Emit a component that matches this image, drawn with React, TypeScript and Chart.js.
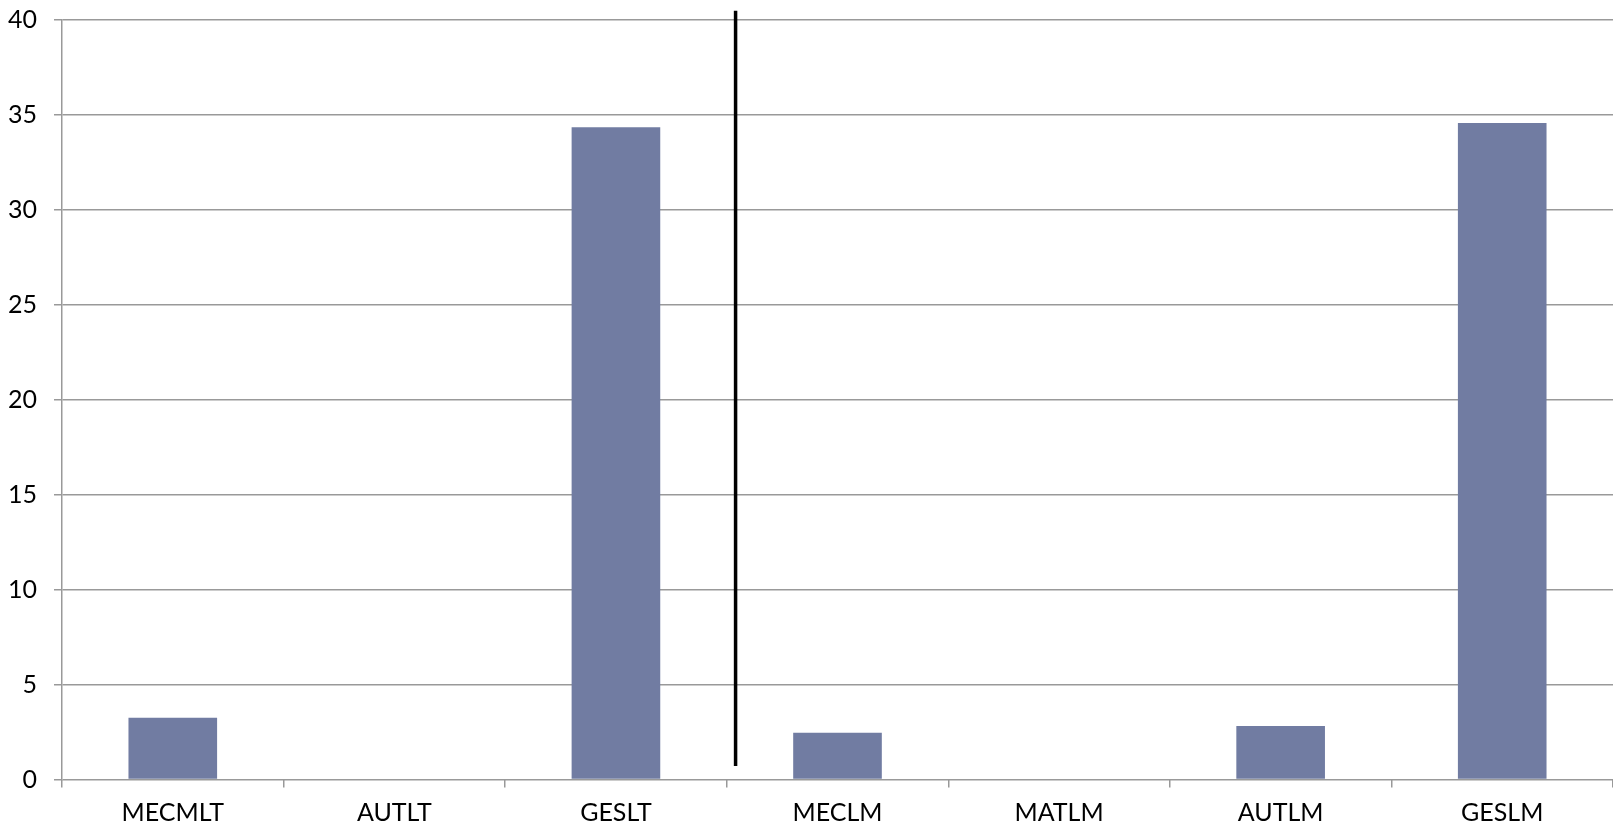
import React, { useEffect, useRef } from "react";
import { Chart, registerables } from "chart.js";

Chart.register(...registerables);

const categories = ["MECMLT", "AUTLT", "GESLT", "MECLM", "MATLM", "AUTLM", "GESLM"];
const values = [3.25, 0, 34.33, 2.46, 0, 2.82, 34.55];
const yTicks = [0, 5, 10, 15, 20, 25, 30, 35, 40];
const dividerX = 2.54;
const dividerY = [0.71, 40.46];

export default function App() {
  const ref = useRef<HTMLCanvasElement | null>(null);

  useEffect(() => {
    if (!ref.current) return;
    const font = { family: "Lato, 'Open Sans', sans-serif", size: 25 };
    const chart = new Chart(ref.current, {
      type: "bar",
      data: {
        labels: categories,
        datasets: [
          {
            type: "bar",
            data: values,
            backgroundColor: "#717ca2",
            borderWidth: 0,
            barPercentage: 0.4,
            categoryPercentage: 1,
            grouped: false,
          } as any,
          {
            type: "line",
            xAxisID: "x2",
            data: [
              { x: dividerX, y: dividerY[0] },
              { x: dividerX, y: dividerY[1] },
            ],
            borderColor: "#000000",
            borderWidth: 3.5,
            pointRadius: 0,
            clip: false,
          } as any,
        ],
      },
      options: {
        responsive: false,
        animation: false,
        layout: { padding: { top: 19.5, right: 0, left: 0, bottom: 0 } },
        plugins: { legend: { display: false }, tooltip: { enabled: false } },
        scales: {
          x: {
            type: "category",
            offset: true,
            grid: {
              offset: true,
              drawOnChartArea: false,
              drawTicks: true,
              tickLength: 8,
              color: "#999999",
              lineWidth: 1.5,
            },
            border: { display: false },
            ticks: { color: "#000", font, padding: 10, maxRotation: 0, autoSkip: false },
            afterFit: (s: any) => {
              s.height = 45.5;
              s.paddingLeft = 0;
              s.paddingRight = 0;
            },
          },
          x2: {
            type: "linear",
            display: false,
            offset: false,
            min: -0.5,
            max: 6.5,
          },
          y: {
            min: 0,
            max: 40,
            afterBuildTicks: (s: any) => {
              s.ticks = yTicks.map((v) => ({ value: v }));
            },
            grid: {
              color: "#999999",
              lineWidth: 1.5,
              drawTicks: true,
              tickLength: 8,
            },
            border: { display: true, color: "#999999", width: 1.5 },
            ticks: { color: "#000", font, padding: 17 },
            afterFit: (s: any) => {
              s.width = 62;
              s.paddingTop = 0;
              s.paddingBottom = 0;
            },
          },
        },
      },
    });
    return () => chart.destroy();
  }, []);

  return (
    <div style={{ position: "fixed", left: 0, top: 0, width: "1613px", height: "825px", background: "#fff" }}>
      <canvas ref={ref} width={1613} height={825} style={{ display: "block" }} />
    </div>
  );
}
